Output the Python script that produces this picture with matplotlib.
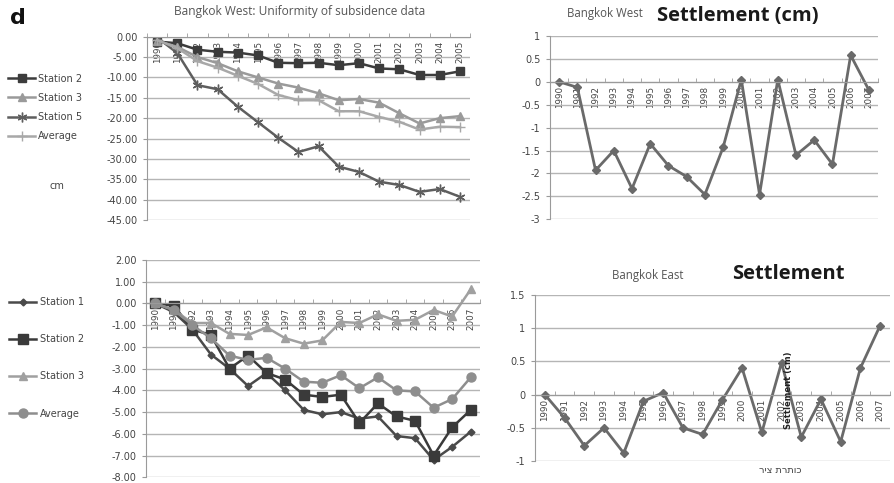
import matplotlib
matplotlib.use("Agg")
import matplotlib.pyplot as plt
from matplotlib.ticker import FixedLocator, FormatStrFormatter
import numpy as np

# ---------------- data ----------------
years_w = [str(y) for y in range(1990, 2006)]
west_station2 = [-1.2, -1.6, -3.2, -3.7, -3.9, -4.6, -6.4, -6.5, -6.4, -7.0, -6.5, -7.8, -8.0, -9.4, -9.4, -8.5]
west_station3 = [-1.0, -2.5, -5.0, -6.5, -8.5, -10.0, -11.5, -12.5, -13.9, -15.6, -15.3, -16.2, -18.8, -21.3, -20.0, -19.5]
west_station5 = [-0.2, -4.0, -11.9, -12.9, -17.2, -21.0, -24.8, -28.3, -26.9, -31.9, -33.2, -35.6, -36.4, -38.1, -37.4, -39.3]
west_average = [-0.8, -2.8, -6.0, -7.6, -9.6, -11.6, -14.3, -15.6, -15.6, -18.3, -18.3, -19.7, -20.9, -22.8, -22.1, -22.2]

years_all = [str(y) for y in range(1990, 2008)]
west_settlement = [0.0, -0.12, -1.93, -1.5, -2.33, -1.35, -1.83, -2.07, -2.46, -1.43, 0.05, -2.46, 0.05, -1.6, -1.27, -1.8, 0.58, -0.18]

east_station1 = [0.0, -0.4, -1.2, -2.35, -3.0, -3.8, -3.2, -4.0, -4.9, -5.1, -5.0, -5.3, -5.2, -6.1, -6.2, -7.2, -6.6, -5.9]
east_station2 = [0.0, -0.1, -1.2, -1.45, -3.0, -2.4, -3.2, -3.5, -4.2, -4.3, -4.2, -5.5, -4.6, -5.2, -5.4, -7.0, -5.7, -4.9]
east_station3 = [0.0, -0.3, -0.9, -0.9, -1.4, -1.45, -1.1, -1.6, -1.85, -1.7, -0.85, -0.9, -0.5, -0.8, -0.75, -0.3, -0.6, 0.65]
east_average = [0.0, -0.3, -1.0, -1.6, -2.4, -2.6, -2.5, -3.0, -3.6, -3.65, -3.3, -3.9, -3.4, -4.0, -4.05, -4.8, -4.4, -3.4]

east_settlement = [0.0, -0.35, -0.77, -0.5, -0.88, -0.1, 0.03, -0.5, -0.6, -0.08, 0.4, -0.57, 0.48, -0.64, -0.07, -0.71, 0.4, 1.04]

# ---------------- style ----------------
W, H = 894, 483
fig = plt.figure(figsize=(W / 100, H / 100), dpi=100)
plt.rcParams['font.family'] = ['DejaVu Sans']

GRID = '#b5b5b5'
AXC = '#9a9a9a'
TXT = '#444444'


def px_axes(x0, y0, x1, y1):
    return fig.add_axes([x0 / W, 1 - y1 / H, (x1 - x0) / W, (y1 - y0) / H])


def style_axes(ax, cats, ylim, yticks, fmt, zero_at=0):
    n = len(cats)
    for s in ['top', 'right']:
        ax.spines[s].set_visible(False)
    ax.spines['bottom'].set_position(('data', zero_at))
    ax.spines['bottom'].set_color(AXC)
    ax.spines['left'].set_color(AXC)
    ax.set_xlim(-0.5, n - 0.5)
    ax.set_ylim(*ylim)
    ax.set_yticks(yticks)
    if fmt:
        ax.yaxis.set_major_formatter(FormatStrFormatter(fmt))
    else:
        ax.yaxis.set_major_formatter(plt.FuncFormatter(lambda v, p: f"{v:g}"))
    ax.set_xticks(range(n))
    ax.set_xticklabels(cats, rotation=90, fontsize=6.3, color=TXT, va='top', ha='center')
    ax.xaxis.set_minor_locator(FixedLocator(np.arange(-0.5, n, 1.0)))
    ax.tick_params(axis='x', which='major', length=0, pad=3)
    ax.tick_params(axis='x', which='minor', length=3, direction='in', color=AXC)
    ax.tick_params(axis='y', length=3, direction='out', color=AXC, labelsize=7, labelcolor=TXT, pad=4)
    ax.grid(axis='y', color=GRID, linewidth=1.0)
    ax.set_axisbelow(True)
    ax.patch.set_alpha(0)


# ---------- top-left ----------
ax1 = px_axes(147, 36.7, 470, 220)
x16 = np.arange(len(years_w))
ax1.plot(x16, west_station2, color='#3c3c3c', lw=1.8, marker='s', ms=6, label='Station 2')
ax1.plot(x16, west_station3, color='#9a9a9a', lw=1.8, marker='^', ms=6, label='Station 3')
ax1.plot(x16, west_station5, color='#5e5e5e', lw=1.8, marker=(6, 2, 0), ms=7, mew=1, label='Station 5')
ax1.plot(x16, west_average, color='#a8a8a8', lw=1.8, marker='+', ms=7, mew=1, label='Average')
style_axes(ax1, years_w, (-45, 0), np.arange(-45, 0.1, 5), '%.2f')
ax1.legend(loc='upper left', bbox_to_anchor=(8 / W, 1 - 73.5 / H), bbox_transform=fig.transFigure,
           frameon=False, fontsize=7, handlelength=2.8, handletextpad=0.25, labelspacing=0.95,
           borderpad=0, borderaxespad=0, labelcolor=TXT)
fig.text(300 / W, 1 - 11 / H, 'Bangkok West: Uniformity of subsidence data', family='Open Sans',
         fontsize=8.6, color='#555555', ha='center', va='center')
fig.text(10 / W, 1 - 18 / H, 'd', fontsize=16, fontweight='bold', ha='left', va='center', color='#111111')
fig.text(57 / W, 1 - 186 / H, 'cm', fontsize=7, color=TXT, ha='center', va='center')

# ---------- top-right ----------
ax2 = px_axes(550, 36, 878, 219.3)
x18 = np.arange(len(years_all))
ax2.plot(x18, west_settlement, color='#6a6a6a', lw=2, marker='D', ms=4)
style_axes(ax2, years_all, (-3, 1), np.arange(-3, 1.01, 0.5), None)
fig.text(605 / W, 1 - 14 / H, 'Bangkok West', family='Open Sans', fontsize=8.3, color='#555555',
         ha='center', va='center')
fig.text(738 / W, 1 - 16 / H, 'Settlement (cm)', family='Open Sans', fontsize=14.5, fontweight='bold',
         color='#1a1a1a', ha='center', va='center')

# ---------- bottom-left ----------
ax3 = px_axes(146, 260, 480, 477.3)
ax3.plot(x18, east_station1, color='#4a4a4a', lw=1.8, marker='D', ms=3.5, label='Station 1')
ax3.plot(x18, east_station2, color='#3a3a3a', lw=1.8, marker='s', ms=6.5, label='Station 2')
ax3.plot(x18, east_station3, color='#a0a0a0', lw=1.8, marker='^', ms=5.5, label='Station 3')
ax3.plot(x18, east_average, color='#8e8e8e', lw=1.8, marker='o', ms=6.5, label='Average')
style_axes(ax3, years_all, (-8, 2), np.arange(-8, 2.01, 1), '%.2f')
ax3.legend(loc='upper left', bbox_to_anchor=(9 / W, 1 - 297 / H), bbox_transform=fig.transFigure,
           frameon=False, fontsize=7, handlelength=2.8, handletextpad=0.4, labelspacing=2.8,
           borderpad=0, borderaxespad=0, labelcolor=TXT)

# ---------- bottom-right ----------
ax4 = px_axes(535, 295, 890, 461)
ax4.plot(x18, east_settlement, color='#6a6a6a', lw=2, marker='D', ms=4)
style_axes(ax4, years_all, (-1, 1.5), np.arange(-1, 1.51, 0.5), None)
fig.text(648 / W, 1 - 275 / H, 'Bangkok East', family='Open Sans', fontsize=8.3, color='#555555',
         ha='center', va='center')
fig.text(788 / W, 1 - 274 / H, 'Settlement', family='Open Sans', fontsize=14.5, fontweight='bold',
         color='#1a1a1a', ha='center', va='center')
fig.text(788 / W, 1 - 390 / H, 'Settlement (cm)', fontsize=6, fontweight='bold', rotation=90,
         color='#222222', ha='center', va='center')
fig.text(780 / W, 1 - 470 / H, 'כותרת ציר'[::-1], family='DejaVu Sans', fontsize=7,
         color=TXT, ha='center', va='center')

fig.savefig('out.png', dpi=100)
